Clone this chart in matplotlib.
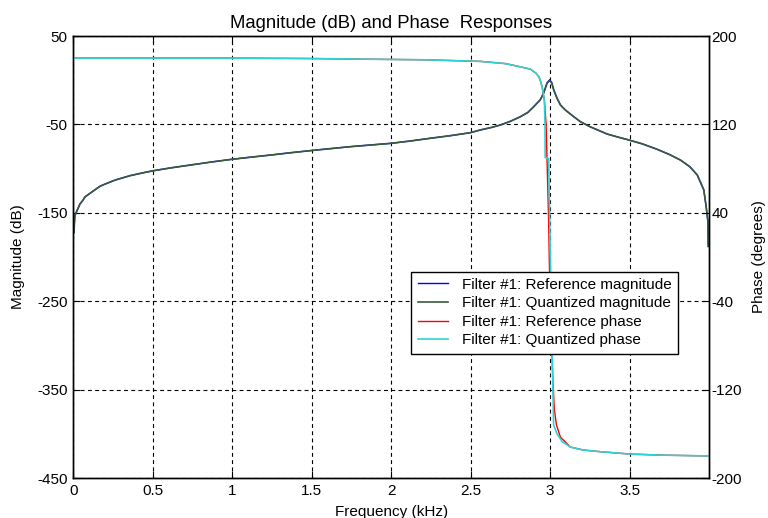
import matplotlib
matplotlib.use("Agg")
import matplotlib.pyplot as plt

# ---- data ----
freq_mag = [0.000, 0.004, 0.010, 0.021, 0.030, 0.042, 0.060, 0.074, 0.105, 0.168,
            0.200, 0.263, 0.357, 0.420, 0.500, 0.620, 0.735, 0.870, 0.997, 1.120,
            1.250, 1.370, 1.490, 1.742, 2.000, 2.120, 2.246, 2.370, 2.498, 2.561,
            2.630, 2.687, 2.750, 2.813, 2.860, 2.897, 2.939, 2.960, 2.981, 2.997,
            3.010, 3.023, 3.044, 3.065, 3.096, 3.149, 3.191, 3.250, 3.359, 3.420,
            3.495, 3.580, 3.674, 3.750, 3.820, 3.880, 3.926, 3.967, 3.982, 3.993,
            3.995]
quant_mag = [-174, -172, -153, -148.7, -145, -140, -136, -132, -128, -120,
             -117.5, -113, -108, -105.5, -102.5, -99, -96, -92.5, -89.5, -87,
             -84.5, -82, -79.7, -75.2, -71.4, -68.8, -65.7, -62.8, -59.4, -56.3,
             -53.5, -50.7, -46.5, -41.3, -36.5, -30, -22, -14.5, -3.5, -0.5,
             -3, -11.1, -20.5, -28, -33.7, -41.3, -47, -52.5, -60.9, -64,
             -67.6, -72, -78.2, -84, -90.3, -98, -107.2, -124, -143, -160,
             -188]
ref_mag = [-174, -172, -153, -148.7, -145, -140, -136, -132, -128, -120,
           -117.5, -113, -108, -105.5, -102.5, -99, -96, -92.5, -89.5, -87,
           -84.5, -82, -79.7, -75.2, -71.4, -68.8, -65.7, -62.8, -59.4, -56.3,
           -53.5, -50.7, -46.5, -41.3, -36.5, -30, -22, -14, -3, 0.5,
           -2.5, -11, -20.5, -28, -33.7, -41.3, -47, -52.5, -60.9, -64,
           -67.6, -72, -78.2, -84, -90.3, -98, -107.2, -124, -143, -160,
           -188]

freq_qph = [0.0, 0.5, 1.0, 1.5, 1.85, 2.2, 2.45, 2.564, 2.72, 2.80, 2.876, 2.91,
            2.93, 2.94, 2.95, 2.964, 2.968, 2.969, 2.991, 3.003, 3.013, 3.022,
            3.044, 3.075, 3.128, 3.21, 3.317, 3.5, 3.7, 3.995]
quant_phase = [180, 180, 180, 179.6, 179, 178.5, 177.5, 177, 175, 172.5, 170, 166.5,
               163, 159, 154, 142, 120, 90, 89, -10, -85, -152,
               -160, -167, -172, -174.7, -176.2, -178.3, -179.3, -180]

freq_rph = [0.0, 0.5, 1.0, 1.5, 1.85, 2.2, 2.45, 2.564, 2.72, 2.80, 2.876, 2.91,
            2.93, 2.94, 2.95, 2.964, 2.975, 2.991, 2.996, 3.017, 3.027, 3.040,
            3.065, 3.128, 3.21, 3.317, 3.5, 3.7, 3.995]
ref_phase = [180, 180, 180, 179.6, 179, 178.5, 177.5, 177, 175, 172.5, 170, 166.5,
             163, 159, 154, 142, 120, 32, -10, -110, -138, -152,
             -163, -172, -174.7, -176.2, -178.3, -179.3, -180]

xticks = [0, 0.5, 1, 1.5, 2, 2.5, 3, 3.5]
xticklabels = ["0", "0.5", "1", "1.5", "2", "2.5", "3", "3.5"]
mag_ticks = [50, -50, -150, -250, -350, -450]
phase_ticks = [200, 120, 40, -40, -120, -200]

labels = ["Filter #1: Reference magnitude", "Filter #1: Quantized magnitude",
          "Filter #1: Reference phase", "Filter #1: Quantized phase"]

plt.rcParams['font.family'] = ['Liberation Sans', 'DejaVu Sans']
plt.rcParams['axes.unicode_minus'] = False

fig = plt.figure(figsize=(7.68, 5.18), dpi=100)
ax1 = fig.add_axes([0.0954, 0.0772, 0.8276, 0.8533])
ax2 = ax1.twinx()

c_blue = '#0000ff'
c_green = '#3a5a3a'
c_red = '#ff0000'
c_cyan = '#2fd3d3'

l1, = ax1.plot(freq_mag, ref_mag, color=c_blue, lw=1.0)
l2, = ax1.plot(freq_mag, quant_mag, color=c_green, lw=1.2)
l3, = ax2.plot(freq_rph, ref_phase, color=c_red, lw=1.0)
l4, = ax2.plot(freq_qph, quant_phase, color=c_cyan, lw=1.2)

ax1.set_xlim(0, 3.999)
ax1.set_ylim(-450, 50)
ax2.set_ylim(-200, 200)

ax1.set_xticks(xticks)
ax1.set_xticklabels(xticklabels)
ax1.set_yticks(mag_ticks)
ax2.set_yticks(phase_ticks)

ax1.grid(True, color='black', linestyle=(0, (3.5, 3)), linewidth=0.8)
ax1.set_axisbelow(True)

fs = 11
ax1.tick_params(axis='both', direction='in', length=5, width=0.8, labelsize=fs,
                top=True, colors='black', pad=4)
ax2.tick_params(axis='y', direction='in', length=5, width=0.8, labelsize=fs, pad=2)

for ax in (ax1, ax2):
    for s in ax.spines.values():
        s.set_linewidth(1.0)
        s.set_color('black')

ax1.set_xlabel("Frequency (kHz)", fontsize=fs, labelpad=5)
ax1.set_ylabel("Magnitude (dB)", fontsize=fs, labelpad=9)
ax2.set_ylabel("Phase (degrees)", fontsize=fs, labelpad=7)
ax1.set_title("Magnitude (dB) and Phase  Responses", fontsize=13.3, pad=6)

leg = ax2.legend([l1, l2, l3, l4], labels, loc='upper left',
                 bbox_to_anchor=(0.532, 0.467), borderaxespad=0, fontsize=fs,
                 frameon=True, fancybox=False, framealpha=1, edgecolor='black',
                 labelspacing=0.3, handlelength=2.0, handletextpad=0.9,
                 borderpad=0.4)
leg.get_frame().set_linewidth(1.0)
leg.set_zorder(10)

fig.savefig("out.png", dpi=100, facecolor='white')
